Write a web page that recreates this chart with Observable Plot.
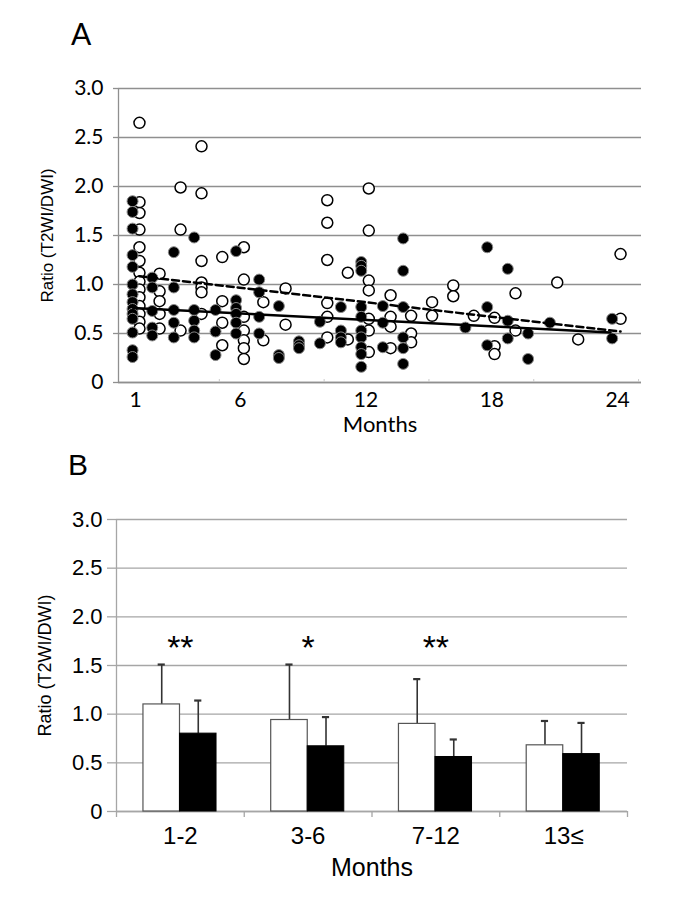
<!DOCTYPE html>
<html><head><meta charset="utf-8">
<script src="https://cdn.jsdelivr.net/npm/d3@7"></script>
<script src="https://cdn.jsdelivr.net/npm/@observablehq/plot@0.6"></script>
<style>
body{margin:0;background:#fff;}
#wrap{position:relative;width:685px;height:906px;overflow:hidden;background:#fff;}
.panel{position:absolute;left:0;}
.tag{position:absolute;font-size:30px;line-height:normal;z-index:2;color:#000;}
</style></head><body>
<div id="wrap">
<div class="panel" id="pa" style="top:0px"></div>
<div class="panel" id="pb" style="top:440px"></div>
<div class="tag" style="left:71px;top:15px;font-family:Lato">A</div>
<div class="tag" style="left:68px;top:448px;font-family:'Liberation Sans'">B</div>
</div>
<script>
// ---------- Panel A data: [month, [ratios...]] ----------
const openCols = [
 [1.19, [2.65,1.84,1.73,1.56,1.38,1.24,1.12,1.03,0.95,0.87,0.78,0.70,0.62,0.55]],
 [2.15, [1.11,0.93,0.83,0.70,0.55]],
 [3.15, [1.99,1.56,0.53]],
 [4.15, [2.41,1.93,1.24,1.02,0.97,0.92,0.70]],
 [5.14, [1.28,0.83,0.61,0.38]],
 [6.17, [1.38,1.05,0.67,0.53,0.43,0.35,0.24]],
 [7.1, [0.82,0.43]],
 [8.16, [0.96,0.59]],
 [10.15, [1.86,1.63,1.25,0.81,0.67,0.46]],
 [11.13, [1.12,0.44]],
 [12.13, [1.98,1.55,1.04,0.94,0.65,0.53,0.31]],
 [13.17, [0.89,0.67,0.57,0.35]],
 [14.15, [0.68,0.50,0.41]],
 [15.15, [0.82,0.68]],
 [16.16, [0.99,0.88]],
 [17.14, [0.68]],
 [18.13, [0.66,0.37,0.29]],
 [19.13, [0.91,0.53]],
 [21.12, [1.02]],
 [22.12, [0.44]],
 [24.14, [1.31,0.65]]
];
const filledCols = [
 [0.86, [1.85,1.74,1.57,1.30,1.18,1.00,0.90,0.82,0.75,0.70,0.65,0.51,0.33,0.26]],
 [1.8, [1.07,0.97,0.73,0.56,0.48]],
 [2.83, [1.33,0.97,0.74,0.61,0.46]],
 [3.8, [1.48,0.74,0.63,0.53,0.46]],
 [4.82, [0.74,0.52,0.28]],
 [5.8, [1.34,0.84,0.76,0.70,0.61,0.50]],
 [6.9, [1.05,0.92,0.67,0.50]],
 [7.84, [0.78,0.28,0.25]],
 [8.8, [0.42,0.38,0.35]],
 [9.8, [0.62,0.40]],
 [10.8, [0.77,0.53,0.46,0.41]],
 [11.77, [1.23,1.19,1.14,0.77,0.67,0.53,0.46,0.36,0.29,0.16]],
 [12.8, [0.78,0.61,0.36]],
 [13.77, [1.47,1.14,0.77,0.46,0.35,0.19]],
 [16.74, [0.56]],
 [17.78, [1.38,0.77,0.38]],
 [18.76, [1.16,0.63,0.45]],
 [19.73, [0.50,0.24]],
 [20.77, [0.61]],
 [23.74, [0.65,0.45]]
];
const trendOpen = [[1.18, 1.085], [24.14, 0.52]];
const trendFilled = [[0.89, 0.76], [23.66, 0.51]];
const xLabelsA = [1, 6, 12, 18, 24];
const xMinorA = [5, 10, 15, 20, 25];
const yTicks = [0, 0.5, 1, 1.5, 2, 2.5, 3];

// ---------- Panel B data ----------
const categories = ["1-2", "3-6", "7-12", "13\u2264"];
const openMean = [1.10, 0.94, 0.90, 0.68];
const openUpper = [1.51, 1.51, 1.36, 0.93];
const filledMean = [0.80, 0.67, 0.56, 0.59];
const filledUpper = [1.14, 0.97, 0.74, 0.91];
const significance = ["**", "*", "**", ""];

const fmtY = d => d === 0 ? "0" : d.toFixed(1);
const flat = cols => cols.flatMap(([m, vs]) => vs.map(v => ({m, v})));
const openPts = flat(openCols);
const filledPts = flat(filledCols);
const xDomA = [0.19, 25.14];
const gridA = "#8f8f8f";

const plotA = Plot.plot({
  width: 685, height: 440,
  marginLeft: 118, marginRight: 44, marginTop: 88, marginBottom: 58,
  style: {fontFamily: "Lato", color: "#000", background: "transparent", overflow: "visible"},
  x: {domain: xDomA},
  y: {domain: [0, 3]},
  marks: [
    Plot.gridY({ticks: yTicks, stroke: gridA, strokeOpacity: 1, strokeWidth: 1.3}),
    Plot.axisY({ticks: yTicks, tickSize: 5, tickPadding: 10, stroke: gridA, strokeWidth: 1.3, tickFormat: fmtY, fontSize: 21, label: null}),
    Plot.ruleX([xDomA[0]], {stroke: gridA, strokeWidth: 1.3}),
    Plot.ruleY([0], {stroke: gridA, strokeWidth: 1.3}),
    Plot.ruleX(xMinorA, {y1: 0, y2: 0.03, stroke: "#c8c8c8"}),
    Plot.axisX({ticks: xLabelsA, tickSize: 0, tickPadding: 10, tickFormat: d => String(d), fontSize: 21, label: null}),
    Plot.dot(openPts, {x: "m", y: "v", r: 5.5, fill: "white", stroke: "black", strokeWidth: 1.5}),
    Plot.dot(filledPts, {x: "m", y: "v", r: 5.5, fill: "black", stroke: "#8a8a8a", strokeWidth: 1}),
    Plot.line(trendOpen, {x: d => d[0], y: d => d[1], stroke: "black", strokeWidth: 2.5, strokeDasharray: "7,4"}),
    Plot.line(trendFilled, {x: d => d[0], y: d => d[1], stroke: "black", strokeWidth: 2.5}),
    Plot.text(["Ratio (T2WI/DWI)"], {text: d => d, frameAnchor: "left", textAnchor: "middle", lineAnchor: "middle", dx: -71, rotate: -90, fontFamily: "Liberation Sans", fontSize: 17}),
    Plot.text(["Months"], {text: d => d, frameAnchor: "bottom", textAnchor: "middle", lineAnchor: "middle", dy: 42, fontSize: 22})
  ]
});
document.getElementById("pa").append(plotA);

// ---------- Panel B ----------
const barRows = categories.map((c, i) => ({
  i, c, om: openMean[i], ou: openUpper[i], fm: filledMean[i], fu: filledUpper[i], s: significance[i]
}));
const gridB = "#a6a6a6";
const capHalf = 0.028;
const plotB = Plot.plot({
  width: 685, height: 466,
  marginLeft: 116, marginRight: 58, marginTop: 79, marginBottom: 95,
  style: {fontFamily: "Liberation Sans", color: "#000", background: "transparent", overflow: "visible"},
  x: {domain: [0, categories.length]},
  y: {domain: [0, 3]},
  marks: [
    Plot.gridY({ticks: yTicks, stroke: gridB, strokeOpacity: 1, strokeWidth: 1.3}),
    Plot.axisY({ticks: yTicks, tickSize: 9, tickPadding: 5, stroke: gridB, strokeWidth: 1.3, tickFormat: fmtY, fontSize: 22, label: null}),
    Plot.ruleX([0], {stroke: gridB, strokeWidth: 1.3}),
    Plot.ruleY([0], {stroke: gridB, strokeWidth: 1.3}),
    Plot.axisX({ticks: d3.range(categories.length + 1), tickSize: 6, stroke: gridB, strokeWidth: 1.3, tickFormat: () => "", label: null}),
    Plot.axisX({ticks: categories.map((c, i) => i + 0.5), tickSize: 0, tickPadding: 15, tickFormat: t => categories[Math.floor(t)], fontSize: 24, label: null}),
    // error bars (behind bars)
    Plot.ruleX(barRows, {x: d => d.i + 0.354, y1: "om", y2: "ou", stroke: "#333", strokeWidth: 1.6}),
    Plot.ruleY(barRows, {y: "ou", x1: d => d.i + 0.354 - capHalf, x2: d => d.i + 0.354 + capHalf, stroke: "#333", strokeWidth: 2.2}),
    Plot.ruleX(barRows, {x: d => d.i + 0.64, y1: "fm", y2: "fu", stroke: "#333", strokeWidth: 1.6}),
    Plot.ruleY(barRows, {y: "fu", x1: d => d.i + 0.64 - capHalf, x2: d => d.i + 0.64 + capHalf, stroke: "#333", strokeWidth: 2.2}),
    Plot.rectY(barRows, {x1: d => d.i + 0.211, x2: d => d.i + 0.497, y1: 0, y2: "om", fill: "white", stroke: "#555", strokeWidth: 1.2}),
    Plot.rectY(barRows, {x1: d => d.i + 0.497, x2: d => d.i + 0.783, y1: 0, y2: "fm", fill: "black", stroke: "black", strokeWidth: 1}),
    Plot.text(barRows, {x: d => d.i + 0.5, y: () => 1.68, text: "s", fontSize: 34}),
    Plot.text(["Ratio (T2WI/DWI)"], {text: d => d, frameAnchor: "left", textAnchor: "middle", lineAnchor: "middle", dx: -71, rotate: -90, fontSize: 18}),
    Plot.text(["Months"], {text: d => d, frameAnchor: "bottom", textAnchor: "middle", lineAnchor: "middle", dy: 56, fontSize: 25})
  ]
});
document.getElementById("pb").append(plotB);
</script>
</body></html>
